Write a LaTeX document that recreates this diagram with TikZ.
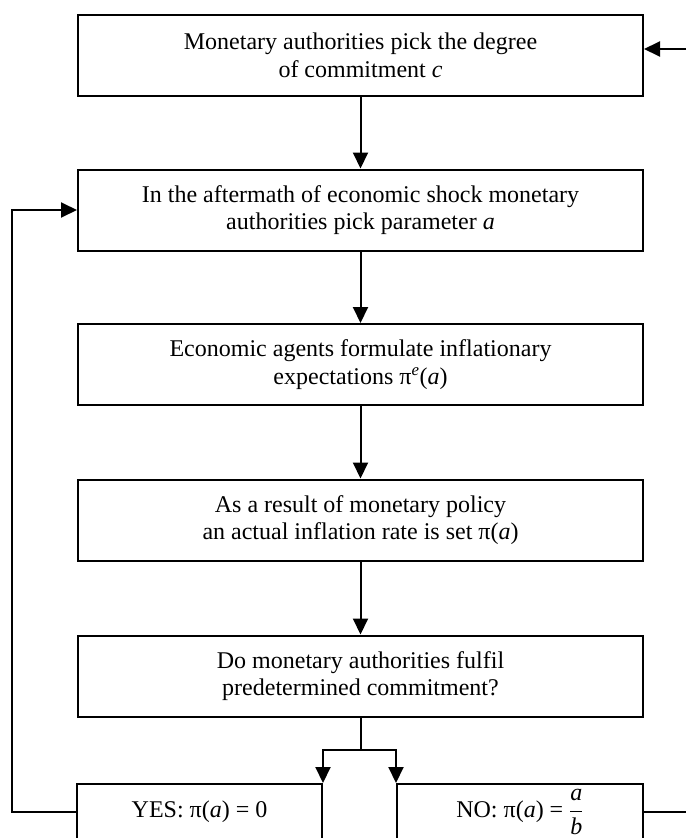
\documentclass[tikz,border=0pt]{standalone}
\usepackage{fontspec}
\setmainfont{Liberation Serif}
\usepackage{amsmath}
\usetikzlibrary{arrows.meta}
\begin{document}
\begin{tikzpicture}[x=1pt,y=-1pt, line width=2pt,
  box/.style={draw, rectangle, minimum width=565pt, minimum height=81pt, align=center, font=\fontsize{24}{27.5}\selectfont, inner sep=0pt},
  sbox/.style={draw, rectangle, minimum height=56pt, font=\fontsize{24}{27.5}\selectfont, inner sep=0pt},
  arr/.style={-{Triangle[length=16pt,width=15pt]}}]
\clip (0,0) rectangle (686,838);
\node[box] (b1) at (360.5,55.5) {Monetary authorities pick the degree\\ of commitment \textit{c}};
\node[box] (b2) at (360.5,210) {In the aftermath of economic shock monetary\\ authorities pick parameter \textit{a}};
\node[box] (b3) at (360.5,364.5) {Economic agents formulate inflationary\\ expectations π\textsuperscript{\textit{e}}(\textit{a})};
\node[box] (b4) at (360.5,520) {As a result of monetary policy\\ an actual inflation rate is set π(\textit{a})};
\node[box] (b5) at (360.5,676) {Do monetary authorities fulfil\\ predetermined commitment?};
\node[sbox, minimum width=245pt] (yes) at (199.5,812) {YES: π(\textit{a}) = 0};
\node[sbox, minimum width=246pt] (no) at (520,812) {NO: π(\textit{a}) = $\dfrac{\text{\itshape a}}{\text{\itshape b}}$};
\coordinate (tin) at (686,49);
\coordinate (lft) at (12,0);
\coordinate (rgt) at (686,0);
\coordinate (fork) at (360,750);
\draw[arr] (tin) -- (tin -| b1.east);
\draw[arr] (b1.south) -- (b2.north);
\draw[arr] (b2.south) -- (b3.north);
\draw[arr] (b3.south) -- (b4.north);
\draw[arr] (b4.south) -- (b5.north);
\draw (b5.south) -- (b5.south |- fork);
\draw[arr] (b5.south |- fork) -| (yes.north east);
\draw[arr] (b5.south |- fork) -| (no.north west);
\draw[arr] (yes.west) -- (yes.west -| lft) |- (b2.west);
\draw (no.east) -- (no.east -| rgt);
\end{tikzpicture}
\end{document}
